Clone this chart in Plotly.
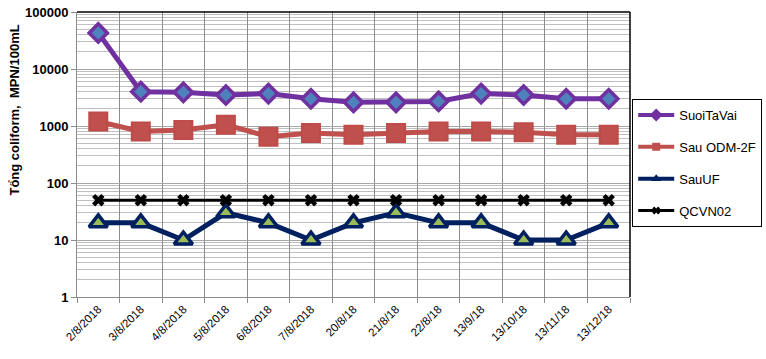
import plotly.graph_objects as go

categories = ["2/8/2018", "3/8/2018", "4/8/2018", "5/8/2018", "6/8/2018", "7/8/2018",
              "20/8/18", "21/8/18", "22/8/18", "13/9/18", "13/10/18", "13/11/18", "13/12/18"]
suoi_ta_vai = [43000, 4000, 3900, 3500, 3700, 3000, 2600, 2600, 2700, 3700, 3500, 3000, 3000]
sau_odm_2f = [1200, 800, 850, 1050, 650, 750, 700, 750, 800, 800, 780, 700, 700]
sau_uf = [20, 20, 10, 30, 20, 10, 20, 30, 20, 20, 10, 10, 20]
qcvn02 = [50] * 13
y_tick_vals = [1, 10, 100, 1000, 10000, 100000]
y_tick_text = ["1", "10", "100", "1000", "10000", "100000"]

FONT = "Arial, Liberation Sans, sans-serif"

series = [
    dict(name="SuoiTaVai", y=suoi_ta_vai, lc="#7030A0", lw=5, sym="diamond", ms=14, fc="#4F81BD", bc="#7030A0", bw=3.5, lsym="diamond", lgs=10),
    dict(name="Sau ODM-2F", y=sau_odm_2f, lc="#C0504D", lw=5, sym="square", ms=18, fc="#C0504D", bc="#BE4B48", bw=2, lsym="square", lgs=8),
    dict(name="SauUF", y=sau_uf, lc="#002060", lw=5, sym="triangle-up", ms=16, fc="#9BBB59", bc="#002060", bw=3.5, lsym="triangle-up", lgs=9),
    dict(name="QCVN02", y=qcvn02, lc="#000000", lw=3, sym="x", ms=11, fc="#000000", bc="#000000", bw=0, lsym="x", lgs=7),
]

fig = go.Figure()
for s in series:
    fig.add_trace(go.Scatter(
        x=categories, y=s["y"], name=s["name"], mode="lines+markers", showlegend=False,
        line=dict(color=s["lc"], width=s["lw"]),
        marker=dict(symbol=s["sym"], size=s["ms"], color=s["fc"], line=dict(color=s["bc"], width=s["bw"]))))
for i, s in enumerate(series):
    # legend entries with small markers, like the reference legend
    fig.add_trace(go.Scatter(
        x=[None], y=[None], name=s["name"], mode="lines+markers", legendgroup="g%d" % i,
        line=dict(color=s["lc"], width=min(s["lw"], 4)),
        marker=dict(symbol=s["lsym"], size=s["lgs"], color=s["lc"], line=dict(width=0))))

fig.update_layout(
    width=766, height=359,
    margin=dict(l=77, r=136, t=12, b=62, autoexpand=False),
    paper_bgcolor="white", plot_bgcolor="white",
    font=dict(family=FONT, color="#000000"),
    showlegend=True,
    legend=dict(
        x=1.004, y=0.695, xanchor="left", yanchor="top",
        bordercolor="#000000", borderwidth=1,
        font=dict(family=FONT, size=13, color="#000000"),
        tracegroupgap=12, itemwidth=36,
    ),
    xaxis=dict(
        type="category", tickson="boundaries", tickangle=-45, automargin=False,
        tickfont=dict(family=FONT, size=11.5, color="#000000"),
        showgrid=True, gridcolor="#8C8C8C", gridwidth=1,
        showline=True, linecolor="#8C8C8C", linewidth=1,
        ticks="outside", ticklen=5, tickcolor="#8C8C8C",
        range=[-0.5, 12.5],
    ),
    yaxis=dict(
        type="log", range=[0, 5], automargin=False,
        tickvals=y_tick_vals, ticktext=y_tick_text,
        tickfont=dict(family=FONT, size=13, color="#000000", weight="bold"),
        showgrid=True, gridcolor="#A6A6A6", gridwidth=1,
        minor=dict(showgrid=True, gridcolor="#BFBFBF", gridwidth=1, dtick="D1"),
        showline=True, linecolor="#8C8C8C", linewidth=1,
        ticks="outside", ticklen=5, tickcolor="#8C8C8C",
        zeroline=False,
    ),
    shapes=[
        dict(type="line", xref="paper", yref="paper", x0=0, x1=1, y0=1, y1=1,
             line=dict(color="#000000", width=1.5)),
        dict(type="line", xref="paper", yref="paper", x0=1, x1=1, y0=0, y1=1,
             line=dict(color="#000000", width=1.5)),
    ],
    annotations=[
        dict(text="Tổng coliform,  MPN/100mL", textangle=-90, xref="paper", yref="paper",
             x=-0.113, y=0.656, xanchor="center", yanchor="middle", showarrow=False,
             font=dict(family=FONT, size=13, color="#000000", weight="bold")),
    ],
)

fig.write_html("out.html", config={"displayModeBar": False},
               post_script="document.body.style.margin='0';document.body.style.overflow='hidden';")
